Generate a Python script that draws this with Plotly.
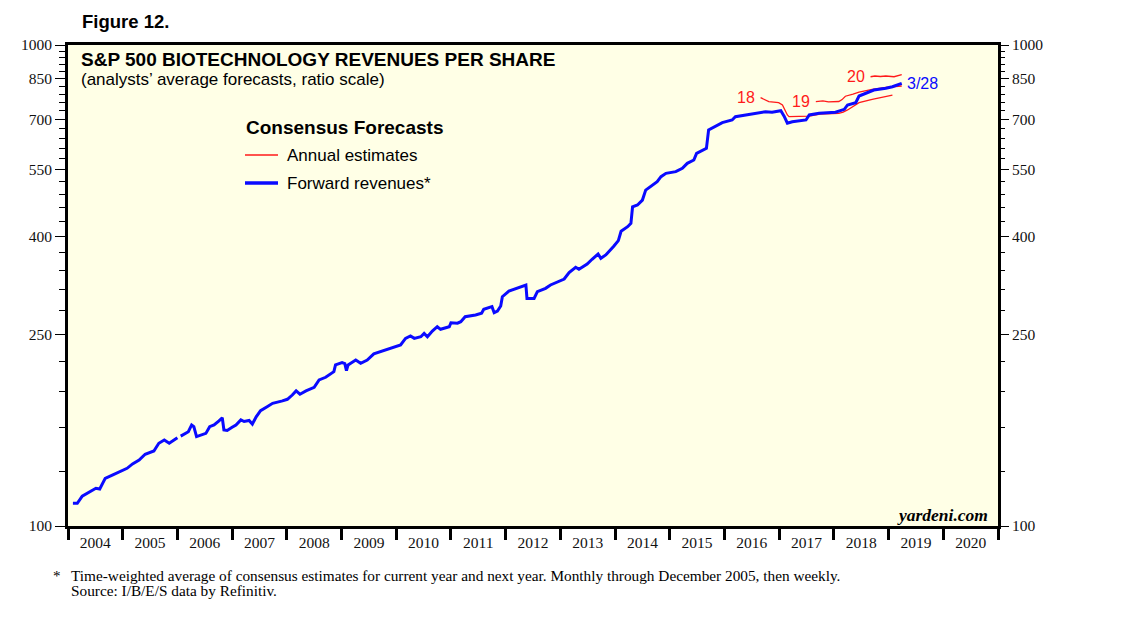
import plotly.graph_objects as go
import math

# ---------------- data ----------------
fwd_t = [2004.09, 2004.17, 2004.26, 2004.44, 2004.51, 2004.58, 2004.68, 2004.81, 2004.99,
         2005.08, 2005.18, 2005.30, 2005.41, 2005.57, 2005.66, 2005.76, 2005.85, 2006.00,
         None,
         2006.06, 2006.15, 2006.20, 2006.26, 2006.30, 2006.35, 2006.43, 2006.52, 2006.59,
         2006.67, 2006.76, 2006.82, 2006.85, 2006.91, 2007.00, 2007.07, 2007.16, 2007.22,
         2007.31, 2007.37, 2007.44, 2007.52, 2007.64, 2007.74, 2007.92, 2008.01, 2008.10,
         2008.17, 2008.24, 2008.35, 2008.50, 2008.59, 2008.71, 2008.78, 2008.86, 2008.89,
         2009.01, 2009.06, 2009.09, 2009.12, 2009.26, 2009.35, 2009.47, 2009.59, 2009.77,
         2009.99, 2010.08, 2010.17, 2010.26, 2010.33, 2010.45, 2010.51, 2010.57, 2010.66,
         2010.75, 2010.81, 2010.97, 2011.00, 2011.12, 2011.18, 2011.26, 2011.45, 2011.56,
         2011.60, 2011.75, 2011.79, 2011.85, 2011.91, 2011.94, 2012.06, 2012.21, 2012.37,
         2012.39, 2012.52, 2012.58, 2012.73, 2012.82, 2012.95, 2013.07, 2013.16, 2013.28,
         2013.34, 2013.49, 2013.58, 2013.64, 2013.69, 2013.74, 2013.83, 2013.98, 2014.06,
         2014.11, 2014.23, 2014.29, 2014.32, 2014.41, 2014.50, 2014.56, 2014.65, 2014.77,
         2014.84, 2014.93, 2015.11, 2015.23, 2015.32, 2015.44, 2015.49, 2015.57, 2015.67,
         2015.71, 2015.81, 2015.96, 2016.14, 2016.20, 2016.39, 2016.57, 2016.75, 2016.87,
         2017.03, 2017.09, 2017.15, 2017.24, 2017.49, 2017.55, 2017.73, 2018.03, 2018.19,
         2018.25, 2018.40, 2018.46, 2018.58, 2018.73, 2018.95, 2019.07, 2019.24]
fwd_v = [111.5, 111.5, 115.4, 118.8, 119.8, 119.4, 125.6, 127.6, 130.7,
         131.8, 134.6, 137.1, 141.0, 143.2, 148.6, 150.9, 148.6, 152.6,
         None,
         153.8, 155.8, 157.0, 162.2, 160.9, 153.4, 154.6, 155.8, 160.9,
         162.2, 165.4, 167.9, 158.4, 158.0, 160.4, 162.2, 166.2, 164.9,
         165.7, 162.9, 168.7, 173.7, 177.0, 179.9, 182.0, 183.4, 187.2,
         190.9, 187.9, 190.9, 194.2, 201.2, 203.8, 206.0, 209.4, 216.2,
         218.6, 217.5, 210.3, 216.2, 221.3, 217.9, 221.3, 227.9, 231.5,
         235.3, 237.9, 245.5, 248.3, 245.5, 247.5, 251.5, 247.5, 254.3,
         259.6, 256.4, 259.6, 264.6, 264.0, 265.9, 272.3, 274.6, 276.8,
         282.2, 285.8, 277.7, 279.9, 286.7, 299.7, 308.0, 312.0, 317.0,
         297.3, 297.3, 307.0, 312.0, 317.0, 322.0, 326.2, 336.3, 345.0,
         341.7, 350.5, 358.5, 363.0, 367.7, 360.2, 366.0, 382.0, 392.0,
         410.0, 419.0, 425.8, 461.0, 465.0, 476.0, 499.3, 509.0, 520.0,
         532.4, 541.0, 545.4, 554.3, 567.5, 576.7, 595.3, 602.7, 609.7,
         666.0, 676.5, 689.8, 698.5, 709.6, 715.3, 721.0, 726.8, 725.0,
         730.0, 711.5, 687.6, 692.7, 698.5, 715.3, 721.0, 725.0, 734.9,
         750.5, 758.6, 783.3, 793.5, 806.0, 812.8, 819.0, 832.0]

est18_t = [2016.66, 2016.81, 2016.99, 2017.06, 2017.15, 2017.18, 2017.55, 2017.75,
           2018.09, 2018.17, 2018.25, 2018.46, 2018.70, 2019.07]
est18_v = [777.0, 762.6, 758.6, 750.5, 715.3, 709.6, 711.5, 718.0,
           721.0, 725.0, 732.8, 758.6, 771.0, 787.0]
est19_t = [2017.67, 2017.80, 2017.90, 2018.09, 2018.15, 2018.21, 2018.35, 2018.46,
           2018.70, 2018.95, 2019.24]
est19_v = [762.6, 765.0, 762.0, 763.0, 770.0, 782.6, 790.0, 797.6,
           809.0, 816.6, 821.8]
est20_t = [2018.67, 2018.75, 2018.85, 2018.95, 2019.10, 2019.24]
est20_v = [859.0, 862.0, 860.0, 862.0, 859.0, 867.7]

years = list(range(2004, 2021))
year_labels = [str(y) for y in years]
major_y = [100, 250, 400, 550, 700, 850, 1000]
minor_y = [v for v in range(130, 1000, 30) if v not in major_y]

# ---------------- layout helpers ----------------
W, H = 1138, 621
L, R, T, B = 68, 998, 45, 526   # plot frame in reference pixels
OFF = 8                          # page body margin of the browser


def px(x):
    return (x - L) / (R - L)


def py(y):
    return (B - y) / (B - T)


BLUE = "#0a0aff"
RED = "#ff1a1a"
BG = "#ffffe6"
SERIF = "Liberation Serif, Times New Roman, serif"
SANS = "Liberation Sans, Arial, sans-serif"

fig = go.Figure()
for tt, vv in [(est18_t, est18_v), (est19_t, est19_v), (est20_t, est20_v)]:
    fig.add_trace(go.Scatter(x=tt, y=vv, mode="lines", line=dict(color=RED, width=1.3),
                             showlegend=False, hoverinfo="skip"))
fig.add_trace(go.Scatter(x=fwd_t, y=fwd_v, mode="lines", line=dict(color=BLUE, width=3),
                         connectgaps=False, showlegend=False, hoverinfo="skip"))
# invisible trace to bind the right-hand axis
fig.add_trace(go.Scatter(x=[fwd_t[0]], y=[fwd_v[0]], yaxis="y2", mode="markers",
                         marker=dict(opacity=0), showlegend=False, hoverinfo="skip"))

yaxis_common = dict(
    type="log", range=[2, 3], tickmode="array", tickvals=major_y,
    ticktext=[str(v) for v in major_y], ticks="outside", ticklen=10, tickwidth=1,
    tickcolor="black", showgrid=False, zeroline=False,
    tickfont=dict(family=SERIF, size=15.5, color="#111"),
    minor=dict(tickmode="array", tickvals=minor_y, ticks="outside", ticklen=6,
               tickwidth=1, tickcolor="black", showgrid=False),
)

fig.update_layout(
    width=W, height=H,
    margin=dict(l=L - OFF, r=W - (R - OFF), t=T - OFF, b=H - (B - OFF)),
    paper_bgcolor="white", plot_bgcolor=BG,
    showlegend=False,
    xaxis=dict(
        range=[2004, 2021], tickmode="array", tickvals=[y + 0.5 for y in years],
        ticktext=year_labels, ticks="", showgrid=False, zeroline=False,
        showline=True, linewidth=3, linecolor="black", mirror=True,
        tickfont=dict(family=SERIF, size=15.5, color="#111"),
        minor=dict(tickmode="array", tickvals=list(range(2004, 2022)), ticks="outside",
                   ticklen=11, tickwidth=3, tickcolor="black", showgrid=False),
    ),
    yaxis=dict(showline=True, linewidth=3, linecolor="black", mirror=True, **yaxis_common),
    yaxis2=dict(overlaying="y", side="right", anchor="x", showline=False, **yaxis_common),
)


def text_ann(x, y, text, size, family=SANS, color="black", xanchor="left"):
    return dict(x=px(x), y=py(y), xref="paper", yref="paper", text=text,
                showarrow=False, xanchor=xanchor, yanchor="middle",
                font=dict(family=family, size=size, color=color))


ann = [
    text_ann(80, 22, "<b>Figure 12.</b>", 18.5),
    text_ann(79, 60, "<b>S&P 500 BIOTECHNOLOGY REVENUES PER SHARE</b>", 19),
    text_ann(79, 80, "(analysts\u2019 average forecasts, ratio scale)", 17),
    text_ann(244, 128, "<b>Consensus Forecasts</b>", 19),
    text_ann(285, 155, "Annual estimates", 17),
    text_ann(285, 183, "Forward revenues*", 17),
    text_ann(990, 515, "<b><i>yardeni.com</i></b>", 17.5, family=SERIF, xanchor="right"),
    text_ann(57, 576, "*", 15, family=SERIF, xanchor="center"),
    text_ann(69, 575, "Time-weighted average of consensus estimates for current year and next year. "
                      "Monthly through December 2005, then weekly.", 15.3, family=SERIF),
    text_ann(69, 590, "Source: I/B/E/S data by Refinitiv.", 15.3, family=SERIF),
]

# series labels placed relative to the data
for t_list, v_list, lab in [(est18_t, est18_v, "18"), (est19_t, est19_v, "19"), (est20_t, est20_v, "20")]:
    ann.append(dict(x=t_list[0] - 0.07, y=math.log10(v_list[0]), xref="x", yref="y", text=lab,
                    showarrow=False, xanchor="right", yanchor="middle",
                    font=dict(family=SANS, size=16, color=RED)))
ann.append(dict(x=fwd_t[-1] + 0.06, y=math.log10(fwd_v[-1]), xref="x", yref="y", text="3/28",
                showarrow=False, xanchor="left", yanchor="middle",
                font=dict(family=SANS, size=16, color=BLUE)))
fig.update_layout(annotations=ann)

shapes = [
    dict(type="line", xref="paper", yref="paper", x0=px(245), x1=px(278), y0=py(155), y1=py(155),
         line=dict(color=RED, width=1.3)),
    dict(type="line", xref="paper", yref="paper", x0=px(245), x1=px(278), y0=py(183), y1=py(183),
         line=dict(color=BLUE, width=3.5)),
]
fig.update_layout(shapes=shapes)

fig.write_html("out.html")
